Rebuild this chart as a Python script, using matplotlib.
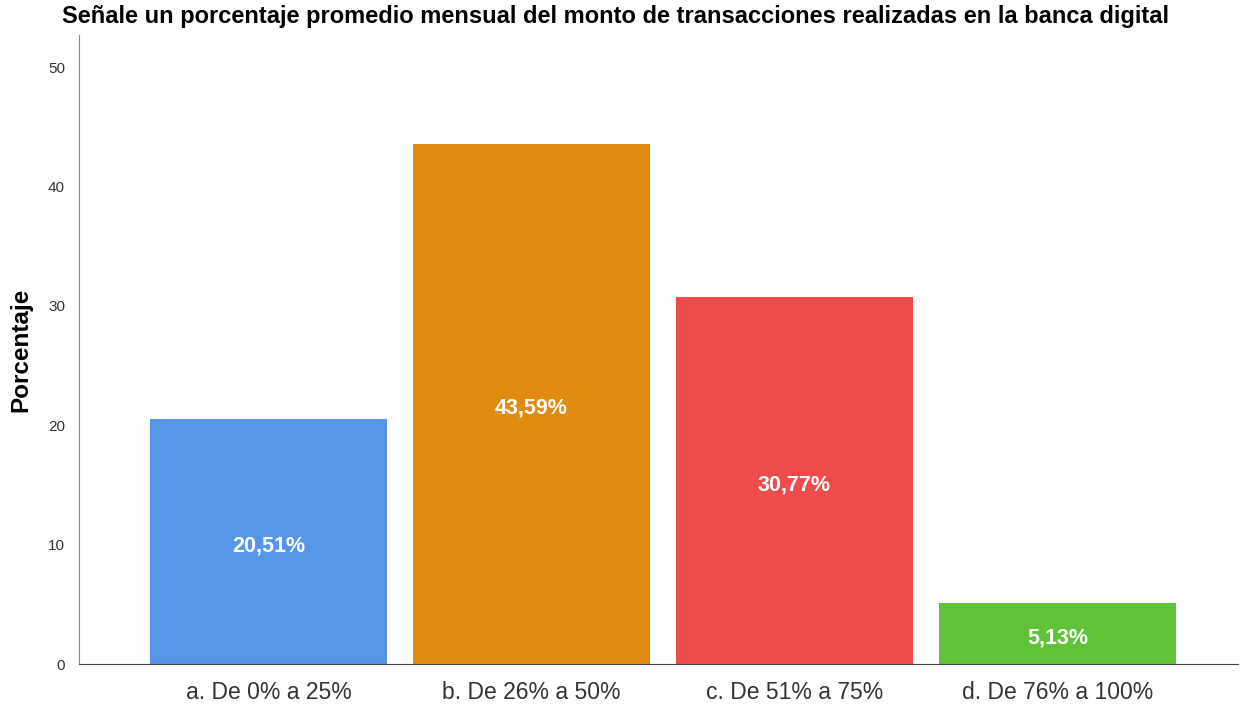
import matplotlib
matplotlib.use("Agg")
import matplotlib.pyplot as plt

categories = ["a. De 0% a 25%", "b. De 26% a 50%", "c. De 51% a 75%", "d. De 76% a 100%"]
values = [20.51, 43.59, 30.77, 5.13]
labels = ["20,51%", "43,59%", "30,77%", "5,13%"]
colors = ["#5596E6", "#E08B10", "#EE4B4B", "#5FC337"]
yticks = [0, 10, 20, 30, 40, 50]

plt.rcParams['font.family'] = ['Liberation Sans', 'DejaVu Sans']

fig = plt.figure(figsize=(12.49, 7.07), dpi=100)
ax = fig.add_axes([79/1249, 43/707, (1238-79)/1249, (664-35)/707])

x = list(range(len(categories)))
bars = ax.bar(x, values, width=0.9, color=colors, edgecolor='none')
for xi, v, lab in zip(x, values, labels):
    ax.text(xi, v/2 - 0.35, lab, ha='center', va='center', color='white',
            fontsize=15.5, fontweight='bold')

ax.set_xlim(-0.72, 3.686)
ax.set_ylim(0, 52.7)
ax.set_yticks(yticks)
ax.set_xticks(x)
ax.set_xticklabels(categories, fontsize=16.5, color='#333333')
ax.tick_params(axis='both', length=0)
ax.tick_params(axis='y', labelsize=11, pad=10, labelcolor='#333333')
ax.tick_params(axis='x', pad=12)
for s in ['top', 'right']:
    ax.spines[s].set_visible(False)
ax.spines['left'].set_color('#888888')
ax.spines['bottom'].set_color('#444444')
ax.set_ylabel("Porcentaje", fontsize=17.5, fontweight='bold', labelpad=11)
fig.text(615/1249, 1 - 16/707, "Señale un porcentaje promedio mensual del monto de transacciones realizadas en la banca digital",
         ha='center', va='center', fontsize=17, fontweight='bold')

fig.savefig("out.png", dpi=100)
